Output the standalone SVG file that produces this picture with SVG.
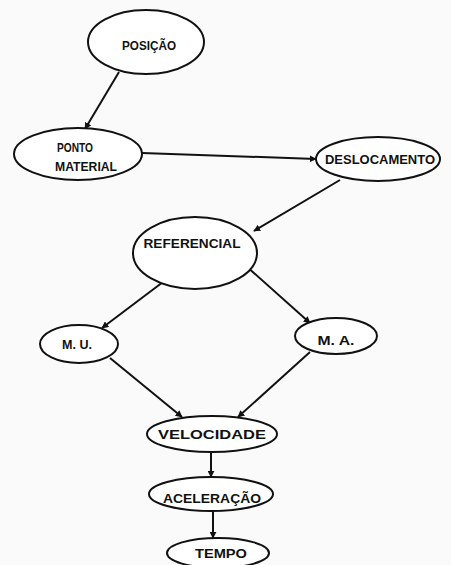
<svg xmlns="http://www.w3.org/2000/svg" width="451" height="565" viewBox="0 0 451 565">
<style>
.n{fill:#fff;stroke:#111;stroke-width:2}
.t{font-family:"Liberation Sans",Arial,sans-serif;font-weight:bold;font-size:13px;fill:#111;text-anchor:middle}
.c{stroke:#111;stroke-width:2;fill:none;marker-end:url(#ah)}
</style>
<defs>
<marker id="ah" viewBox="0 0 10 10" refX="9" refY="5" markerWidth="7" markerHeight="7" markerUnits="userSpaceOnUse" orient="auto">
<path d="M0,0 L10,5 L0,10 z" fill="#111"/>
</marker>
</defs>
<rect width="451" height="565" fill="#fafafa"/>
<g id="connectors">
<line class="c" x1="119" y1="72" x2="85" y2="129"/>
<line class="c" x1="142" y1="153" x2="316" y2="159"/>
<line class="c" x1="340" y1="180" x2="254" y2="231"/>
<line class="c" x1="163" y1="282" x2="102" y2="328"/>
<line class="c" x1="245" y1="265" x2="310" y2="323"/>
<line class="c" x1="110" y1="358" x2="182" y2="417"/>
<line class="c" x1="310" y1="352" x2="238" y2="417"/>
<line class="c" x1="211" y1="452" x2="211" y2="477"/>
<line class="c" x1="213" y1="512" x2="213" y2="538"/>
</g>
<g id="posicao"><ellipse class="n" cx="146" cy="42" rx="58" ry="32"/><text class="t" x="149" y="50" textLength="54" lengthAdjust="spacingAndGlyphs">POSIÇÃO</text></g>
<g id="ponto-material"><ellipse class="n" cx="78" cy="154" rx="64" ry="26"/><text class="t" x="75" y="152" textLength="36" lengthAdjust="spacingAndGlyphs">PONTO</text><text class="t" x="86" y="171" textLength="62" lengthAdjust="spacingAndGlyphs">MATERIAL</text></g>
<g id="deslocamento"><ellipse class="n" cx="378" cy="159" rx="62" ry="22"/><text class="t" x="380" y="164" textLength="110" lengthAdjust="spacingAndGlyphs">DESLOCAMENTO</text></g>
<g id="referencial"><ellipse class="n" cx="195" cy="253" rx="62" ry="36"/><text class="t" x="192" y="248" textLength="97" lengthAdjust="spacingAndGlyphs">REFERENCIAL</text></g>
<g id="mu"><ellipse class="n" cx="79" cy="344" rx="39" ry="19"/><text class="t" x="77" y="349" textLength="30" lengthAdjust="spacingAndGlyphs">M. U.</text></g>
<g id="ma"><ellipse class="n" cx="336" cy="336" rx="41" ry="18"/><text class="t" x="336" y="345" textLength="37" lengthAdjust="spacingAndGlyphs">M. A.</text></g>
<g id="velocidade"><ellipse class="n" cx="212" cy="434" rx="65" ry="18"/><text class="t" x="212" y="439" textLength="108" lengthAdjust="spacingAndGlyphs">VELOCIDADE</text></g>
<g id="aceleracao"><ellipse class="n" cx="211" cy="494" rx="62" ry="17"/><text class="t" x="212" y="503" textLength="98" lengthAdjust="spacingAndGlyphs">ACELERAÇÃO</text></g>
<g id="tempo"><ellipse class="n" cx="218" cy="553" rx="51" ry="15"/><text class="t" x="221" y="558" textLength="52" lengthAdjust="spacingAndGlyphs">TEMPO</text></g>
</svg>
